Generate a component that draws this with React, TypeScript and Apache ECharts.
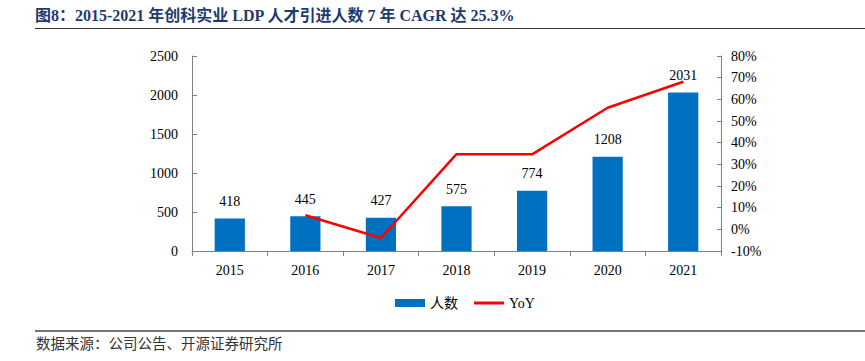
import React, { useEffect, useRef } from "react";
import * as echarts from "echarts";

const years = ["2015", "2016", "2017", "2018", "2019", "2020", "2021"];
const people = [418, 445, 427, 575, 774, 1208, 2031];
const yoy = [null, 6.5, -4.0, 34.7, 34.6, 56.1, 68.1];
const titleText = "图8：2015-2021 年创科实业 LDP 人才引进人数 7 年 CAGR 达 25.3%";
const sourceText = "数据来源：公司公告、开源证券研究所";

const SERIF = "'Liberation Serif', 'Times New Roman', 'Noto Sans CJK SC', serif";

export default function App() {
  const ref = useRef<HTMLDivElement>(null);
  useEffect(() => {
    document.body.style.margin = "0";
    const chart = echarts.init(ref.current!, null, { renderer: "svg" });
    chart.setOption({
      animation: false,
      backgroundColor: "#ffffff",
      textStyle: { fontFamily: SERIF },
      grid: { left: 192, right: 144, top: 56, bottom: 110 },
      legend: {
        left: 390,
        top: 291,
        itemWidth: 30,
        itemHeight: 8,
        itemGap: 16,
        textStyle: { fontFamily: SERIF, fontSize: 14, color: "#000" },
        data: [
          { name: "人数", icon: "rect" },
          { name: "YoY", icon: "path://M0,0H30V3H0Z", itemStyle: { color: "#ff0000" } },
        ],
      },
      xAxis: {
        type: "category",
        data: years,
        axisLine: { lineStyle: { color: "#808080", width: 1 } },
        axisTick: { show: true, inside: false, length: 5, alignWithLabel: false, lineStyle: { color: "#808080" } },
        axisLabel: { color: "#000", fontSize: 14, fontFamily: SERIF, margin: 12 },
      },
      yAxis: [
        {
          type: "value",
          min: 0,
          max: 2500,
          interval: 500,
          splitLine: { show: false },
          axisLine: { show: true, lineStyle: { color: "#808080" } },
          axisTick: { show: true, inside: true, length: 5, lineStyle: { color: "#808080" } },
          axisLabel: { color: "#000", fontSize: 14, fontFamily: SERIF, margin: 14, formatter: (v: number) => String(v) },
        },
        {
          type: "value",
          min: -10,
          max: 80,
          interval: 10,
          position: "right",
          splitLine: { show: false },
          axisLine: { show: true, lineStyle: { color: "#808080" } },
          axisTick: { show: true, inside: true, length: 4, lineStyle: { color: "#808080" } },
          axisLabel: { color: "#000", fontSize: 14, fontFamily: SERIF, margin: 10, formatter: "{value}%" },
        },
      ],
      series: [
        {
          name: "人数",
          type: "bar",
          data: people,
          barWidth: "40%",
          itemStyle: { color: "#0070c0" },
          label: { show: true, position: "top", distance: 10, color: "#000", fontSize: 14, fontFamily: SERIF },
        },
        {
          name: "YoY",
          type: "line",
          yAxisIndex: 1,
          data: yoy,
          symbol: "none",
          lineStyle: { color: "#ff0000", width: 2.5 },
          itemStyle: { color: "#ff0000" },
        },
      ],
      graphic: [
        {
          type: "text",
          left: 35,
          top: 7,
          style: {
            text: titleText,
            fill: "#1f3a6e",
            font: "bold 16px " + SERIF,
          },
        },
        {
          type: "line",
          shape: { x1: 35, y1: 28.5, x2: 865, y2: 28.5 },
          style: { stroke: "#333", lineWidth: 1 },
        },
        {
          type: "line",
          shape: { x1: 35, y1: 331, x2: 865, y2: 331 },
          style: { stroke: "#444", lineWidth: 1.5 },
        },
        {
          type: "text",
          left: 36,
          top: 337,
          style: {
            text: sourceText,
            fill: "#333",
            font: "14.5px " + SERIF,
          },
        },
      ],
    });
    return () => chart.dispose();
  }, []);
  return <div ref={ref} style={{ width: 865, height: 361 }} />;
}
